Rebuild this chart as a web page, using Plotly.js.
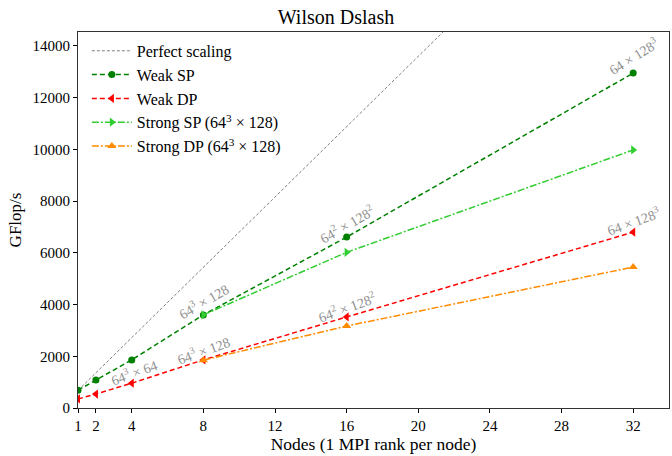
<!DOCTYPE html>
<html><head><meta charset="utf-8">
<script src="https://cdn.plot.ly/plotly-3.0.1.min.js"></script>
<style>body{margin:0;padding:0;background:#fff}#chart{width:672px;height:456px}</style>
</head><body><div id="chart"></div>
<script>
const nodesWeak = [1, 2, 4, 8, 16, 32];
const weakSP = [690, 1080, 1860, 3600, 6610, 12950];
const weakDP = [350, 540, 960, 1860, 3520, 6800];
const nodesStrong = [8, 16, 32];
const strongSP = [3600, 6020, 9980];
const strongDP = [1850, 3170, 5450];
const perfectX = [1, 32];
const perfectY = [680, 21760];
const xTicks = [1, 2, 4, 8, 12, 16, 20, 24, 28, 32];
const yTicks = [0, 2000, 4000, 6000, 8000, 10000, 12000, 14000];
// annotation labels: [text, x, y, xshift, yshift, angle]
const labels = [
  ['64<sup>3</sup> × 64', 4, weakDP[2], 2, 11, -20],
  ['64<sup>3</sup> × 128', 8, weakSP[3], 0, 14, -30],
  ['64<sup>3</sup> × 128', 8, weakDP[3], 0, 10, -20],
  ['64<sup>2</sup> × 128<sup>2</sup>', 16, weakSP[4], 0, 13, -30],
  ['64<sup>2</sup> × 128<sup>2</sup>', 16, weakDP[4], 0, 10, -20],
  ['64 × 128<sup>3</sup>', 32, weakSP[5], 0, 17, -32],
  ['64 × 128<sup>3</sup>', 32, weakDP[5], 0, 11, -20]
];
const F = 'Liberation Serif, serif';
const traces = [
  {x: perfectX, y: perfectY, mode: 'lines', name: 'Perfect scaling',
   line: {color: '#808080', width: 1, dash: '3px,2px'}},
  {x: nodesWeak, y: weakSP, mode: 'lines+markers', name: 'Weak SP',
   line: {color: '#008000', width: 1.5, dash: '5px,3px'}, marker: {symbol: 'circle', size: 7, color: '#008000'}},
  {x: nodesWeak, y: weakDP, mode: 'lines+markers', name: 'Weak DP',
   line: {color: '#ff0000', width: 1.5, dash: '5px,3px'}, marker: {symbol: 'triangle-left', size: 8, color: '#ff0000'}},
  {x: nodesStrong, y: strongSP, mode: 'lines+markers', name: 'Strong SP (64<sup>3</sup> × 128)',
   line: {color: '#32cd32', width: 1.5, dash: '7px,2px,2px,2px'}, marker: {symbol: 'triangle-right', size: 8, color: '#32cd32'}},
  {x: nodesStrong, y: strongDP, mode: 'lines+markers', name: 'Strong DP (64<sup>3</sup> × 128)',
   line: {color: '#ff8c00', width: 1.5, dash: '7px,2px,2px,2px'}, marker: {symbol: 'triangle-up', size: 8, color: '#ff8c00'}}
];
const layout = {
  width: 672, height: 456,
  margin: {l: 78, r: 3, t: 32, b: 48},
  paper_bgcolor: '#fff', plot_bgcolor: '#fff',
  font: {family: F, size: 14, color: '#000'},
  title: {text: 'Wilson Dslash', font: {family: F, size: 20}, x: 0.5, xanchor: 'center', y: 0.962, yanchor: 'middle'},
  xaxis: {range: [1, 34], tickvals: xTicks, ticktext: xTicks.map(String), ticks: 'outside', ticklen: 4,
    tickcolor: '#000', showgrid: false, zeroline: false, showline: true, linecolor: '#333', linewidth: 1, mirror: true,
    title: {text: 'Nodes (1 MPI rank per node)', font: {family: F, size: 17.5}, standoff: 3}, tickfont: {family: F, size: 15}},
  yaxis: {range: [0, 14540], tickvals: yTicks, ticktext: yTicks.map(String), ticks: 'outside', ticklen: 4,
    tickcolor: '#000', showgrid: false, zeroline: false, showline: true, linecolor: '#333', linewidth: 1, mirror: true,
    title: {text: 'GFlop/s', font: {family: F, size: 17}, standoff: 6}, tickfont: {family: F, size: 15}},
  legend: {x: 0.015, y: 0.995, xanchor: 'left', yanchor: 'top', bgcolor: 'rgba(255,255,255,0)',
    font: {family: F, size: 16}, tracegroupgap: 0, itemwidth: 40},
  showlegend: true,
  annotations: labels.map(l => ({text: l[0], x: l[1], y: l[2], xref: 'x', yref: 'y', showarrow: false,
    xshift: l[3], yshift: l[4], textangle: l[5], font: {family: F, size: 14, color: '#909090'}}))
};
Plotly.newPlot('chart', traces, layout, {displayModeBar: false});
</script></body></html>
